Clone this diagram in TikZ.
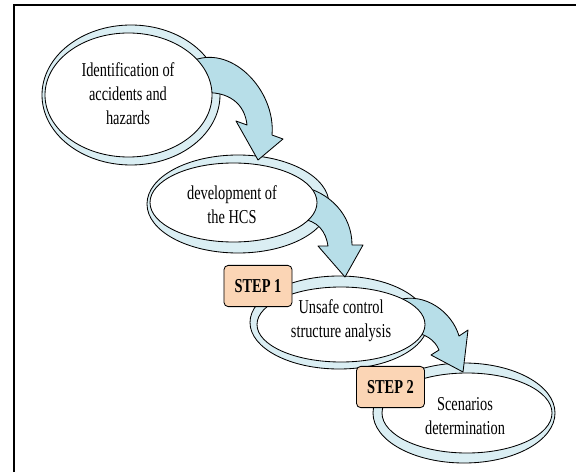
\documentclass[tikz,border=0pt]{standalone}
\usepackage{fontspec}
\setmainfont[FakeStretch=0.73]{Liberation Serif}
\definecolor{ringblue}{HTML}{DAEEF3}
\definecolor{arrowblue}{HTML}{B7DEE8}
\definecolor{stepfill}{HTML}{FBD5B5}
\begin{document}
\begin{tikzpicture}[x=0.025cm,y=-0.025cm,
ring/.style={draw=black,fill=ringblue,line width=0.6pt},
hole/.style={draw=black,fill=white,line width=0.6pt},
bigarrow/.style={draw=black,fill=arrowblue,line width=0.6pt,line join=round},
stagetext/.style={align=center,font=\fontsize{14}{17}\selectfont},
stepbox/.style={draw=black,fill=stepfill,rounded corners=3pt,line width=0.6pt,minimum width=1.7cm,minimum height=1.03cm,font=\fontsize{14}{17}\selectfont\bfseries}]

\useasboundingbox (0,0) rectangle (576,472);
\draw[line width=1.5pt] (14,472) -- (14,5) -- (576,5);

\draw[ring] (131,95) ellipse (89 and 70);
\draw[ring] (238,204) ellipse (91 and 49);
\draw[ring] (339,322.5) ellipse (89 and 46.5);
\draw[ring] (464,413) ellipse (91 and 50);

\draw[bigarrow] (190,62) .. controls (230,42) and (276,90) .. (272,135) -- (283,139) -- (258,160) -- (236,121) -- (247,125) .. controls (245,105) and (230,90) .. (200,93) -- cycle;
\draw[bigarrow] (300,186) .. controls (330,192) and (352,215) .. (352,245) -- (363,245) -- (345,277) -- (318,246) -- (328,246) .. controls (326,232) and (318,220) .. (300,219) -- cycle;
\draw[bigarrow] (398,300) .. controls (425,292) and (452,312) .. (459,336) -- (468,330) -- (463,372) -- (431,355) -- (439,350) .. controls (435,340) and (425,333) .. (410,332) -- cycle;

\draw[hole] (128.5,95) ellipse (83.5 and 62);
\draw[hole] (233.5,202.5) ellipse (83.5 and 39.5);
\draw[hole] (341,324.5) ellipse (84 and 37.5);
\draw[hole] (467,413) ellipse (85 and 40);

\node[stagetext] (ident) at (128,94) {Identification of\\accidents and\\hazards};
\node[stagetext] (hcs) at (232,205) {development of\\the HCS};
\node[stagetext] (ucs) at (341,320.5) {Unsafe control\\structure analysis};
\node[stagetext] (scen) at (465,416.5) {Scenarios\\determination};

\node[stepbox] (step1) at (258,286) {STEP 1};
\node[stepbox] (step2) at (390.5,387) {STEP 2};
\end{tikzpicture}
\end{document}
